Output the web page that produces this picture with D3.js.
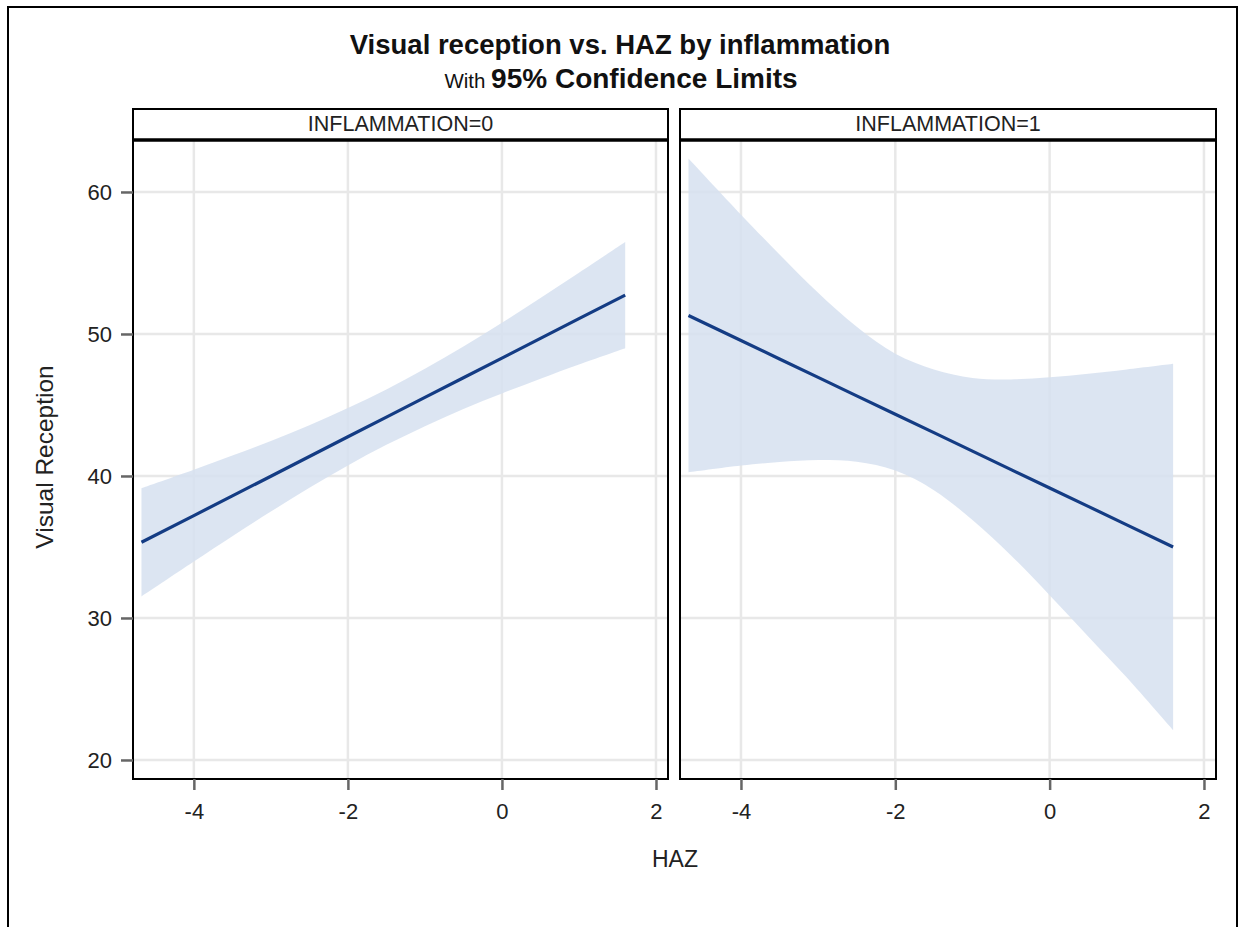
<!DOCTYPE html>
<html><head><meta charset="utf-8">
<script src="https://cdn.jsdelivr.net/npm/d3@7"></script>
<style>body{margin:0;background:#fff}svg{display:block}text{font-family:"Liberation Sans",Arial,sans-serif}</style>
</head><body>
<script>
const panels = ["INFLAMMATION=0", "INFLAMMATION=1"];
const haz = [-4.68, -4, -3.5, -3, -2.5, -2, -1.5, -1, -0.5, 0, 0.5, 1, 1.6];
// panel 0
const fit0 = [35.33, 37.21, 38.60, 39.98, 41.37, 42.76, 44.14, 45.53, 46.92, 48.30, 49.69, 51.08, 52.74];
const upper0 = [39.14, 40.44, 41.44, 42.47, 43.57, 44.78, 46.09, 47.55, 49.12, 50.79, 52.53, 54.31, 56.48];
const lower0 = [31.52, 33.98, 35.76, 37.49, 39.17, 40.74, 42.19, 43.51, 44.72, 45.81, 46.85, 47.85, 49.0];
// panel 1
const fit1 = [51.3, 49.54, 48.24, 46.94, 45.64, 44.35, 43.05, 41.75, 40.45, 39.15, 37.86, 36.56, 35.0];
const upper1 = [62.35, 58.4, 55.6, 52.9, 50.5, 48.6, 47.5, 46.9, 46.8, 46.95, 47.2, 47.5, 47.9];
const lower1 = [40.25, 40.73, 40.99, 41.13, 41.0, 40.38, 39.0, 36.9, 34.4, 31.6, 28.7, 25.8, 22.1];
const xTicks = [-4, -2, 0, 2];
const yTicks = [20, 30, 40, 50, 60];

const fits = [fit0, fit1], uppers = [upper0, upper1], lowers = [lower0, lower1];

const W = 1243, H = 927;
const svg = d3.select("body").append("svg").attr("width", W).attr("height", H);

// outer frame
svg.append("rect").attr("x", 8).attr("y", 7).attr("width", 1229).attr("height", 930)
  .attr("fill", "none").attr("stroke", "#000").attr("stroke-width", 2);

svg.append("text").attr("x", 620).attr("y", 54).attr("text-anchor", "middle")
  .attr("font-size", 27.5).attr("font-weight", "bold").attr("fill", "#111").text("Visual reception vs. HAZ by inflammation");
const sub = svg.append("text").attr("x", 621).attr("y", 88).attr("text-anchor", "middle").attr("fill", "#111");
sub.append("tspan").attr("font-size", 20.5).text("With ");
sub.append("tspan").attr("font-size", 28).attr("font-weight", "bold").text("95% Confidence Limits");

const plotTop = 140, plotBottom = 779, headTop = 109;
const y = d3.scaleLinear().domain([18.66, 63.66]).range([plotBottom, plotTop]);
const panelX = [[133, 668], [680, 1216]];

panels.forEach((name, i) => {
  const [x0, x1] = panelX[i];
  const x = d3.scaleLinear().domain([-4.79, 2.156]).range([x0, x1]);
  const g = svg.append("g");
  // grid
  g.selectAll(".gy").data(yTicks).join("line")
    .attr("x1", x0).attr("x2", x1).attr("y1", d => y(d)).attr("y2", d => y(d))
    .attr("stroke", "#e8e8e8").attr("stroke-width", 2.5);
  g.selectAll(".gx").data(xTicks).join("line")
    .attr("x1", d => x(d)).attr("x2", d => x(d)).attr("y1", plotTop).attr("y2", plotBottom)
    .attr("stroke", "#e8e8e8").attr("stroke-width", 2.5);
  // band
  const idx = d3.range(haz.length);
  g.append("path").datum(idx)
    .attr("d", d3.area().x(k => x(haz[k])).y0(k => y(lowers[i][k])).y1(k => y(uppers[i][k])).curve(d3.curveCatmullRom))
    .attr("fill", "#d6e0f0").attr("fill-opacity", 0.85);
  g.append("path").datum(idx)
    .attr("d", d3.line().x(k => x(haz[k])).y(k => y(fits[i][k])))
    .attr("fill", "none").attr("stroke", "#143c84").attr("stroke-width", 3.2);
  // frame
  g.append("rect").attr("x", x0).attr("y", plotTop).attr("width", x1 - x0).attr("height", plotBottom - plotTop)
    .attr("fill", "none").attr("stroke", "#000").attr("stroke-width", 2);
  // header
  g.append("rect").attr("x", x0).attr("y", headTop).attr("width", x1 - x0).attr("height", plotTop - headTop)
    .attr("fill", "#fff").attr("stroke", "#000").attr("stroke-width", 2);
  g.append("line").attr("x1", x0 - 1).attr("x2", x1 + 1).attr("y1", plotTop).attr("y2", plotTop)
    .attr("stroke", "#000").attr("stroke-width", 3.5);
  g.append("text").attr("x", (x0 + x1) / 2).attr("y", 131).attr("text-anchor", "middle")
    .attr("font-size", 21.5).attr("fill", "#222").text(name);
  // x axis
  const ax = g.append("g").attr("transform", `translate(0,${plotBottom})`)
    .call(d3.axisBottom(x).tickValues(xTicks).tickSize(11).tickPadding(13).tickFormat(d3.format("d")));
  ax.select(".domain").remove();
  ax.selectAll("line").attr("stroke", "#666").attr("stroke-width", 2.5);
  ax.selectAll("text").attr("font-size", 22).attr("fill", "#222").attr("font-family", "Liberation Sans, Arial, sans-serif")
    .text(d => d < 0 ? "-" + Math.abs(d) : d);
  if (i === 0) {
    const ay = g.append("g").attr("transform", `translate(${x0},0)`)
      .call(d3.axisLeft(y).tickValues(yTicks).tickSize(12).tickPadding(9));
    ay.select(".domain").remove();
    ay.selectAll("line").attr("stroke", "#666").attr("stroke-width", 2.5);
    ay.selectAll("text").attr("font-size", 22).attr("fill", "#222").attr("font-family", "Liberation Sans, Arial, sans-serif");
  }
});

svg.append("text").attr("x", 675).attr("y", 867).attr("text-anchor", "middle")
  .attr("font-size", 23).attr("fill", "#222").text("HAZ");
svg.append("text").attr("transform", "translate(53,457) rotate(-90)").attr("text-anchor", "middle")
  .attr("font-size", 24.5).attr("fill", "#222").text("Visual Reception");
</script>
</body></html>
